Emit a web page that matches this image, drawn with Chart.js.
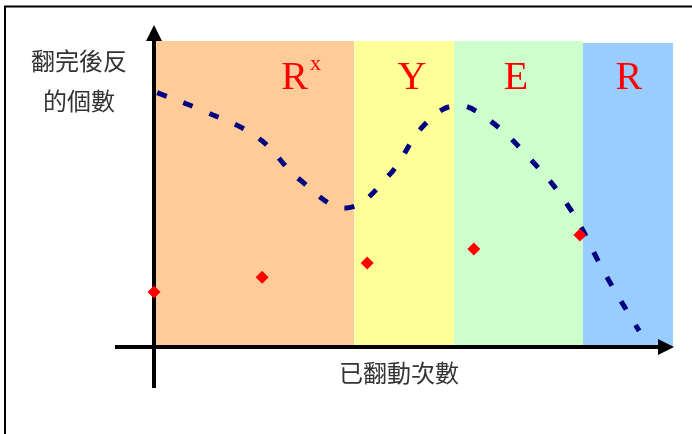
<!DOCTYPE html>
<html>
<head>
<meta charset="utf-8">
<script src="https://cdn.jsdelivr.net/npm/chart.js@4"></script>
<style>
  html, body { margin: 0; padding: 0; background: #fff; }
  #wrap { width: 692px; height: 434px; }
</style>
</head>
<body>
<div id="wrap"><canvas id="myChart"></canvas></div>
<script>
// data (x: 0-100 along the axis, y: 0-100 up the axis)
var bandEdges = [0, 38.5, 57.7, 82.5, 99.8];
var bandTops = [95, 95, 95, 94.4];
var bandLabels = ['R', 'Y', 'E', 'R'];
var bandSup = ['x', '', '', ''];
var bandLabelX = [28.3, 49.6, 69.6, 91.3];
var bandLabelY = 80;

var curveX = [0.6, 10, 20, 28, 37, 45, 52, 58, 64, 72, 80, 87, 93.3];
var curveY = [79, 73, 65, 52, 43.2, 53, 69, 75, 71, 59, 43, 22, 5];

var dotX = [0, 20.8, 41, 61.5, 81.9];
var dotY = [17.1, 21.7, 26.1, 30.4, 34.8];

var yTitle = ['翻完後反', '的個數'];
var xTitle = '已翻動次數';

var bandColors = ['#FFCC99', '#FFFF99', '#CCFFCC', '#99CCFF'];

function pts(xs, ys) {
  return xs.map(function (x, i) { return { x: x, y: ys[i] }; });
}

var datasets = [
  {
    label: 'dots',
    data: pts(dotX, dotY),
    showLine: false,
    pointStyle: 'rectRot',
    pointRadius: 6.5,
    pointBackgroundColor: '#FF0000',
    pointBorderWidth: 0,
    clip: false
  },
  {
    label: 'curve',
    data: pts(curveX, curveY),
    borderColor: '#000080',
    borderWidth: 5,
    borderDash: [10, 18],
    borderCapStyle: 'butt',
    tension: 0.4,
    pointRadius: 0,
    fill: false
  }
];
bandColors.forEach(function (c, i) {
  datasets.push({
    label: 'band' + i,
    data: [{ x: bandEdges[i], y: bandTops[i] }, { x: bandEdges[i + 1], y: bandTops[i] }],
    borderWidth: 0,
    borderColor: c,
    backgroundColor: c,
    pointRadius: 0,
    tension: 0,
    fill: 'origin'
  });
});

// frame, axes with arrows, band letters and the two titles
var decor = {
  id: 'decor',
  beforeDraw: function (chart) {
    var ctx = chart.ctx;
    ctx.save();
    ctx.fillStyle = '#fff';
    ctx.fillRect(0, 0, chart.width, chart.height);
    ctx.strokeStyle = '#000';
    ctx.lineWidth = 2;
    ctx.beginPath();
    ctx.moveTo(5, chart.height);
    ctx.lineTo(5, 6.5);
    ctx.lineTo(chart.width, 6.5);
    ctx.stroke();
    ctx.restore();
  },
  afterDatasetDraw: function (chart, args) {
    if (args.index !== 2) return;
    var ctx = chart.ctx;
    var xs = chart.scales.x, ys = chart.scales.y;
    var x0 = xs.getPixelForValue(0), y0 = ys.getPixelForValue(0);
    var xr = xs.getPixelForValue(100), yt = ys.getPixelForValue(100);
    ctx.save();
    ctx.strokeStyle = '#000';
    ctx.fillStyle = '#000';
    ctx.lineWidth = 4;
    ctx.beginPath();
    ctx.moveTo(x0, y0 + 41);
    ctx.lineTo(x0, yt + 15);
    ctx.moveTo(x0 - 39, y0);
    ctx.lineTo(xr - 15, y0);
    ctx.stroke();
    ctx.beginPath();
    ctx.moveTo(x0, yt);
    ctx.lineTo(x0 - 8, yt + 16);
    ctx.lineTo(x0 + 8, yt + 16);
    ctx.closePath();
    ctx.fill();
    ctx.beginPath();
    ctx.moveTo(xr, y0);
    ctx.lineTo(xr - 16, y0 - 8);
    ctx.lineTo(xr - 16, y0 + 8);
    ctx.closePath();
    ctx.fill();

    // band letters
    ctx.fillStyle = '#FF0000';
    ctx.textBaseline = 'alphabetic';
    ctx.textAlign = 'left';
    bandLabels.forEach(function (t, i) {
      ctx.font = '40px "Liberation Serif", "Times New Roman", serif';
      var w1 = ctx.measureText(t).width;
      ctx.font = '22px "Liberation Serif", "Times New Roman", serif';
      var w2 = bandSup[i] ? ctx.measureText(bandSup[i]).width + 2 : 0;
      var cx = xs.getPixelForValue(bandLabelX[i]);
      var by = ys.getPixelForValue(bandLabelY);
      var left = cx - (w1 + w2) / 2;
      ctx.font = '40px "Liberation Serif", "Times New Roman", serif';
      ctx.fillText(t, left, by);
      if (bandSup[i]) {
        ctx.font = '22px "Liberation Serif", "Times New Roman", serif';
        ctx.fillText(bandSup[i], left + w1 + 2, by - 19);
      }
    });

    // titles
    ctx.fillStyle = '#333';
    ctx.textAlign = 'center';
    ctx.textBaseline = 'middle';
    ctx.font = '24px "Noto Sans CJK TC", "Noto Sans CJK SC", sans-serif';
    yTitle.forEach(function (t, i) {
      ctx.fillText(t, x0 - 75, 61 + i * 40);
    });
    ctx.fillText(xTitle, x0 + 245, y0 + 26);
    ctx.restore();
  }
};

var myChart = new Chart(document.getElementById('myChart'), {
  type: 'line',
  data: { datasets: datasets },
  options: {
    responsive: true,
    maintainAspectRatio: false,
    animation: false,
    layout: { padding: { left: 154, right: 18, top: 25, bottom: 87 } },
    plugins: {
      legend: { display: false },
      tooltip: { enabled: false },
      title: { display: false }
    },
    scales: {
      x: { type: 'linear', min: 0, max: 100, display: false },
      y: { type: 'linear', min: 0, max: 100, display: false }
    }
  },
  plugins: [decor]
});
</script>
</body>
</html>
